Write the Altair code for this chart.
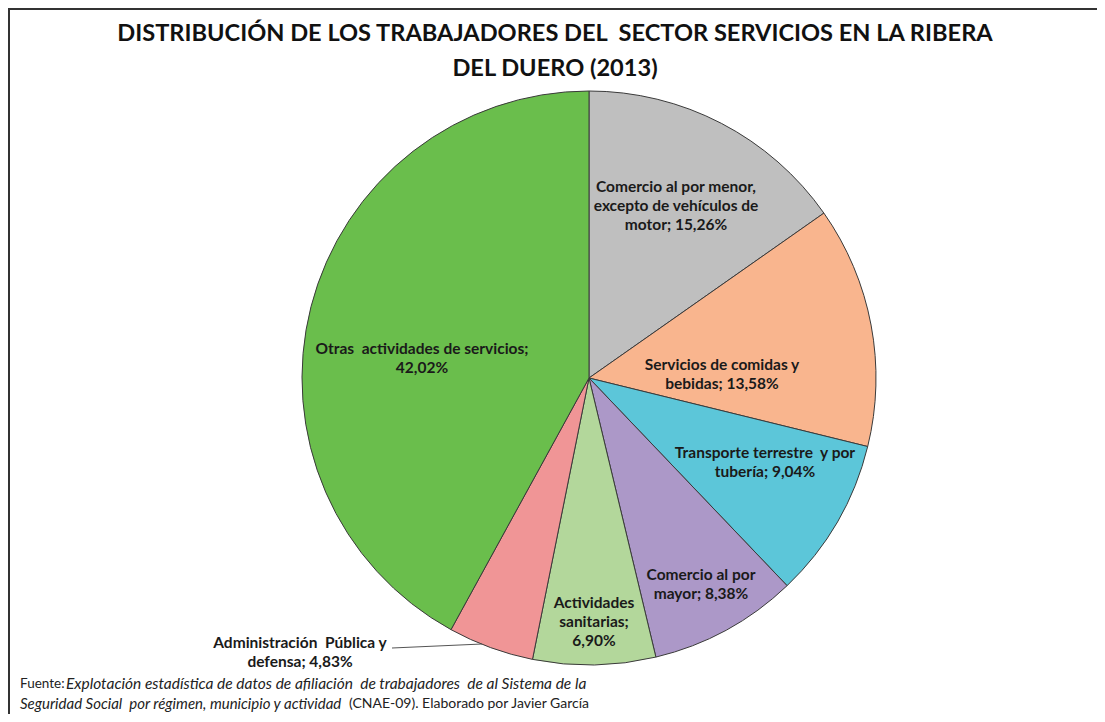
import altair as alt
import pandas as pd

# ---- data ----
categories = [
    "Comercio al por menor, excepto de vehículos de motor",
    "Servicios de comidas y bebidas",
    "Transporte terrestre y por tubería",
    "Comercio al por mayor",
    "Actividades sanitarias",
    "Administración Pública y defensa",
    "Otras actividades de servicios",
]
shares = [15.26, 13.58, 9.04, 8.38, 6.90, 4.83, 42.02]
NB = "\u00a0"
label_heads = [
    "Comercio al por menor,\nexcepto de vehículos de\nmotor; ",
    "Servicios de comidas y\nbebidas; ",
    f"Transporte terrestre{NB} y por\ntubería; ",
    "Comercio al por\nmayor; ",
    "Actividades\nsanitarias;\n",
    f"Administración{NB} Pública y\ndefensa; ",
    f"Otras{NB} actividades de servicios;\n",
]
colors = ["#BFBFBF", "#F9B58E", "#5CC6D9", "#AC98C8", "#B3D79B", "#F09596", "#6ABE4C"]

title_lines = [f"DISTRIBUCIÓN DE LOS TRABAJADORES DEL{NB} SECTOR SERVICIOS EN LA RIBERA", "DEL DUERO (2013)"]

# ---- layout (pixel positions of annotations) ----
W, H = 1089, 706
CX, CY, R = 581, 370, 287
label_x = [668, 714, 757, 693, 586, 292, 414]
label_y = [179, 357, 445, 567, 595, 635, 341]

FONT = "Lato"

def fmt(v):
    return f"{v:.2f}%".replace(".", ",")

df = pd.DataFrame({
    "categoria": categories,
    "valor": shares,
    "orden": list(range(len(categories))),
    "etiqueta": [h + fmt(v) for h, v in zip(label_heads, shares)],
    "lx": label_x,
    "ly": label_y,
})

pie = alt.Chart(df).mark_arc(radius=R, stroke="#3a3a3a", strokeWidth=1).encode(
    theta=alt.Theta("valor:Q", stack=True),
    order=alt.Order("orden:Q"),
    color=alt.Color("categoria:N", scale=alt.Scale(domain=categories, range=colors), legend=None),
    x=alt.value(CX),
    y=alt.value(CY),
)

labels = alt.Chart(df).mark_text(
    font=FONT, fontWeight="bold", fontSize=15.5, lineBreak="\n", lineHeight=19,
    align="center", baseline="middle", color="#1a1a1a",
).encode(
    x=alt.X("lx:Q", scale=None),
    y=alt.Y("ly:Q", scale=None),
    text="etiqueta:N",
)

leader = alt.Chart(df.head(1)).mark_rule(color="#555555", strokeWidth=1).encode(
    x=alt.value(384), y=alt.value(640), x2=alt.value(474), y2=alt.value(636)
)

title = alt.Chart(pd.DataFrame({"t": ["\n".join(title_lines)]})).mark_text(
    font=FONT, fontWeight="bold", fontSize=23.6, lineBreak="\n", lineHeight=35,
    align="center", baseline="middle", color="#111111",
).encode(x=alt.value(547), y=alt.value(26), text="t:N")

foot_rows = pd.DataFrame({
    "t": ["Fuente:",
          f"Explotación estadística de datos de afiliación{NB} de trabajadores{NB} de al Sistema de la",
          f"Seguridad Social{NB} por régimen, municipio y actividad",
          "(CNAE-09). Elaborado por Javier García"],
    "x": [12, 58, 12, 341],
    "y": [676, 676, 696, 696],
    "fs": [13.5, 15.5, 15.0, 14.0],
    "estilo": ["normal", "italic", "italic", "normal"],
})
foot_normal = alt.Chart(foot_rows[foot_rows.estilo == "normal"]).mark_text(
    font=FONT, align="left", baseline="middle", color="#222222"
).encode(x=alt.X("x:Q", scale=None), y=alt.Y("y:Q", scale=None),
         size=alt.Size("fs:Q", scale=None, legend=None), text="t:N")
foot_italic = alt.Chart(foot_rows[foot_rows.estilo == "italic"]).mark_text(
    font=FONT, fontStyle="italic", align="left", baseline="middle", color="#222222"
).encode(x=alt.X("x:Q", scale=None), y=alt.Y("y:Q", scale=None),
         size=alt.Size("fs:Q", scale=None, legend=None), text="t:N")

border_top = alt.Chart(df.head(1)).mark_rule(color="#333333", strokeWidth=2).encode(
    x=alt.value(0), x2=alt.value(W), y=alt.value(1)
)
border_left = alt.Chart(df.head(1)).mark_rule(color="#333333", strokeWidth=2).encode(
    x=alt.value(1), y=alt.value(0), y2=alt.value(H)
)

chart = alt.layer(
    pie, labels, leader, title, foot_normal, foot_italic, border_top, border_left
).properties(
    width=W, height=H, autosize=alt.AutoSizeParams(type="none"), padding=0, background="white"
).configure_view(stroke=None)

chart.save("out.html", embed_options={"renderer": "svg", "actions": False})
